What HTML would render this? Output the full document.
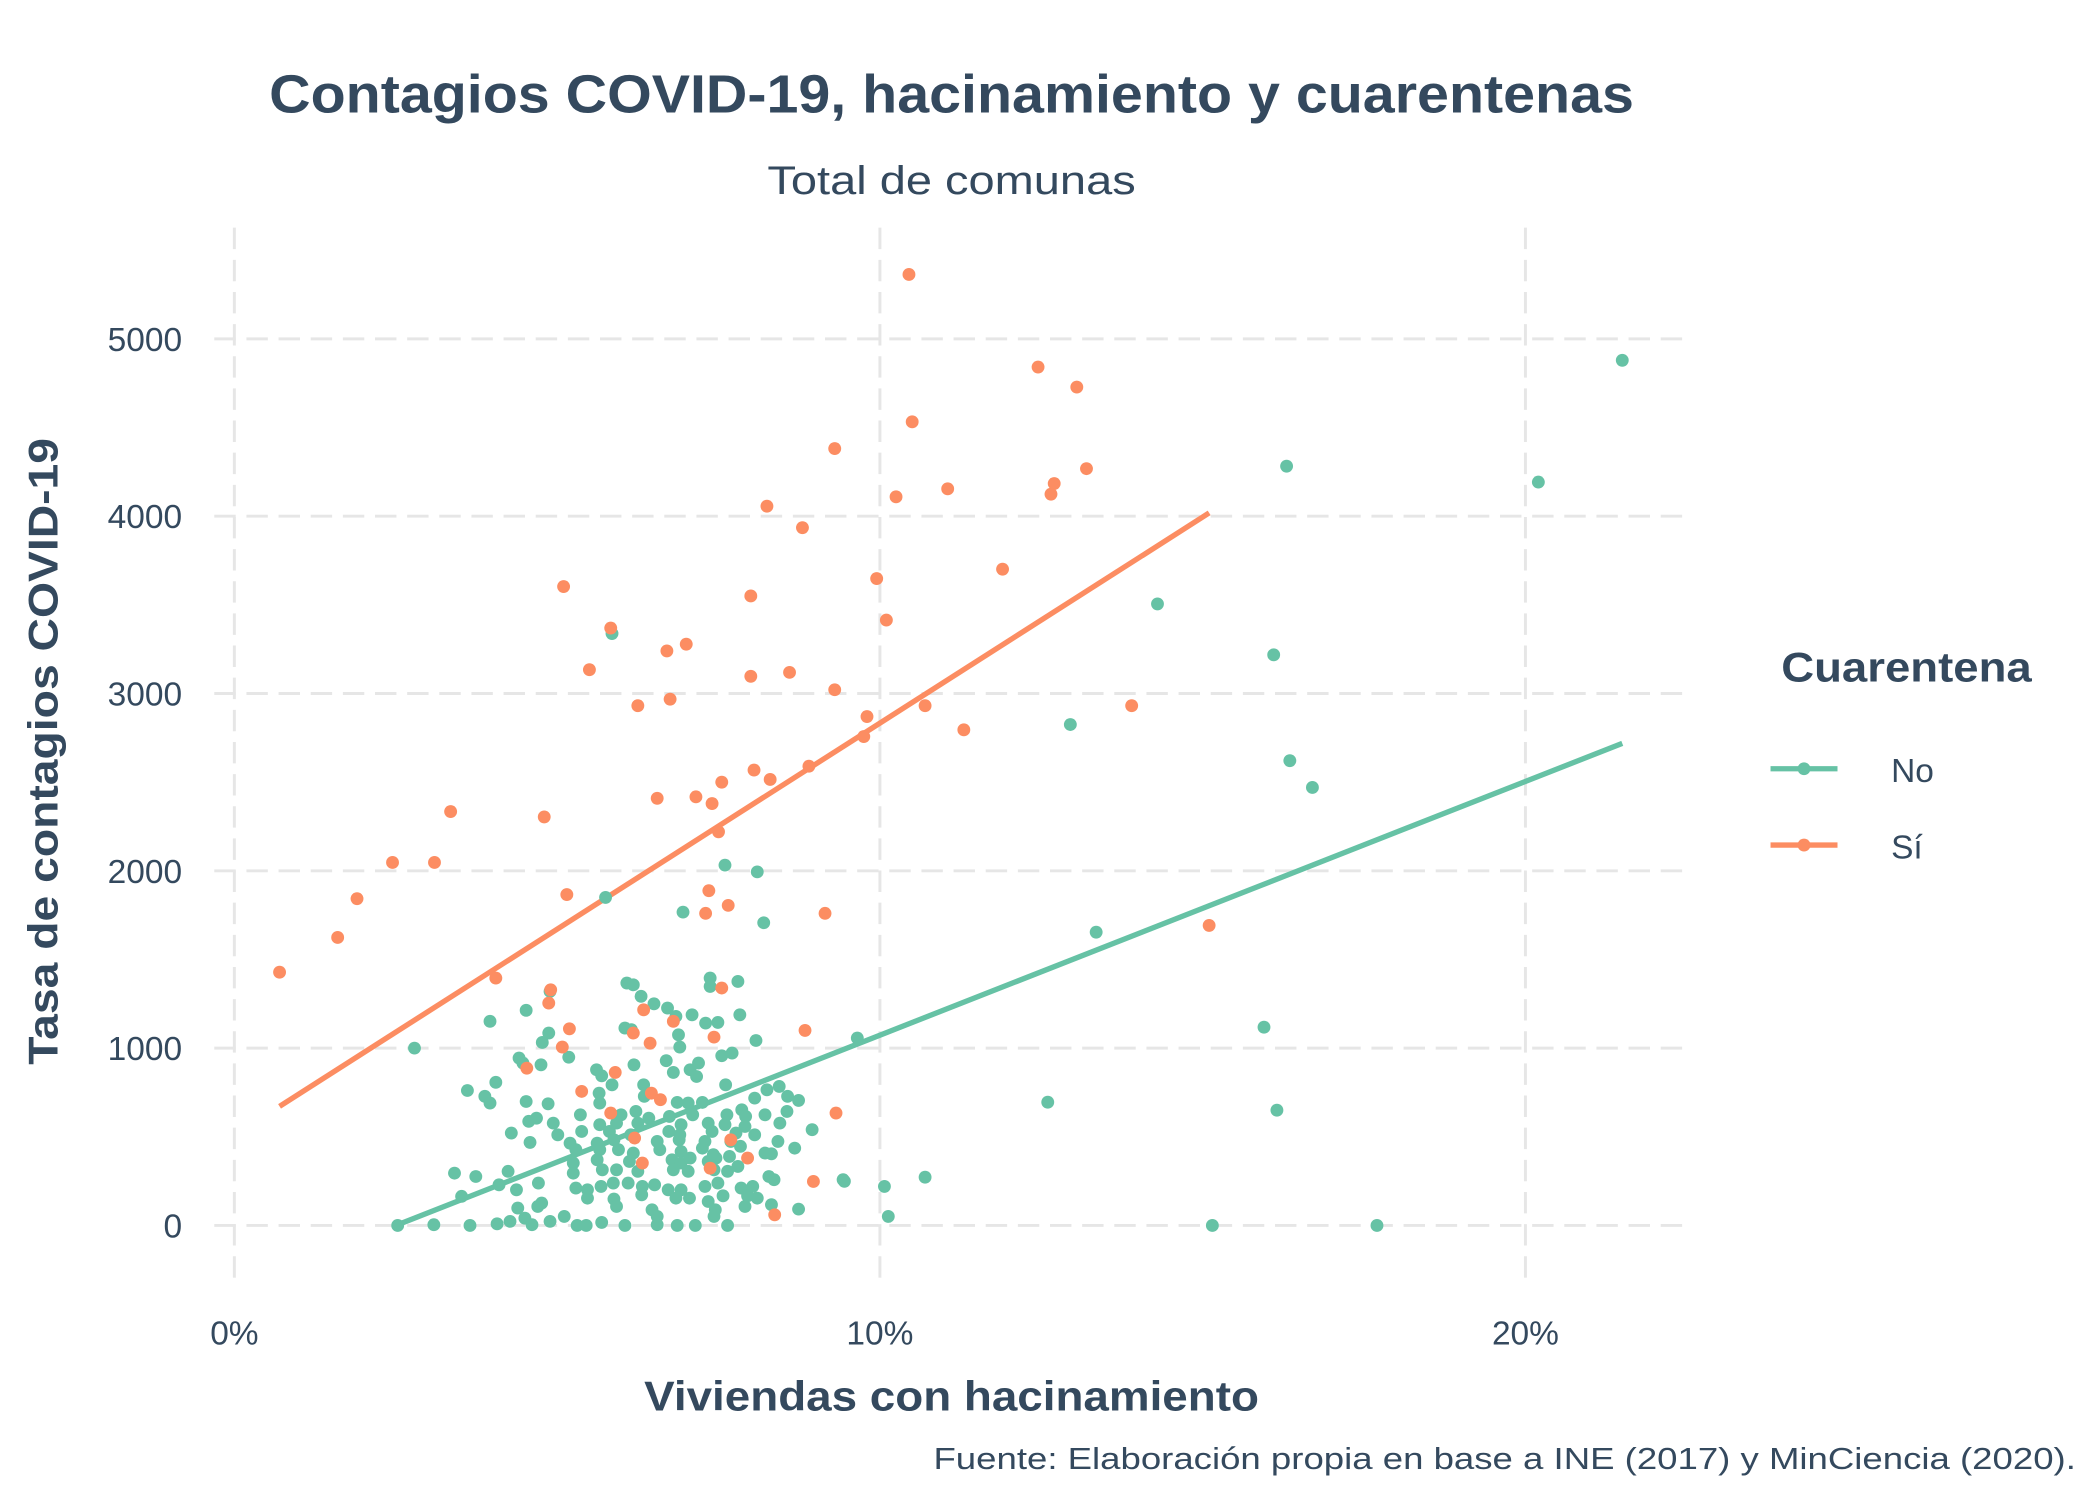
<!DOCTYPE html>
<html><head><meta charset="utf-8"><style>
html,body{margin:0;padding:0;background:#fff;}
svg{display:block;font-family:"Liberation Sans",sans-serif;}
</style></head><body>
<svg id="chart" width="2100" height="1500" viewBox="0 0 1568 1120" xmlns="http://www.w3.org/2000/svg">
<rect width="1568" height="1120" fill="#fff"/>
<g id="grid"></g>
<g id="lines"></g>
<g id="points"></g>
<g id="axes"></g>
<text x="201" y="84" textLength="1019" lengthAdjust="spacingAndGlyphs" font-size="40" font-weight="bold" fill="#34495e">Contagios COVID-19, hacinamiento y cuarentenas</text>
<text x="573" y="145" textLength="275" lengthAdjust="spacingAndGlyphs" font-size="30" fill="#34495e">Total de comunas</text>
<text x="481" y="1053" textLength="459" lengthAdjust="spacingAndGlyphs" font-size="31" font-weight="bold" fill="#34495e">Viviendas con hacinamiento</text>
<text transform="translate(43,795) rotate(-90)" textLength="468" lengthAdjust="spacingAndGlyphs" font-size="31" font-weight="bold" fill="#34495e">Tasa de contagios COVID-19</text>
<text x="697" y="1097" textLength="853" lengthAdjust="spacingAndGlyphs" font-size="23" fill="#34495e">Fuente: Elaboración propia en base a INE (2017) y MinCiencia (2020).</text>
<g>
<text x="1330" y="509" textLength="187" lengthAdjust="spacingAndGlyphs" font-size="31" font-weight="bold" fill="#34495e">Cuarentena</text>
<g>
<line x1="1322" y1="574" x2="1372" y2="574" stroke="#66c2a5" stroke-width="4"/>
<circle cx="1347" cy="574" r="4.8" fill="#66c2a5"/>
<text x="1412" y="584" font-size="25" fill="#34495e">No</text></g>
<g>
<line x1="1322" y1="631" x2="1372" y2="631" stroke="#fc8d62" stroke-width="4"/>
<circle cx="1347" cy="631" r="4.8" fill="#fc8d62"/>
<text x="1412" y="641" font-size="25" fill="#34495e">Sí</text></g>
</g>
</svg>
<script>
const xTicks=[0,10,20];
const xTickLabels=["0%","10%","20%"];
const yTicks=[0,1000,2000,3000,4000,5000];
const yTickLabels=["0","1000","2000","3000","4000","5000"];
const noX=[6.08,6.18,7.37,7.37,7.80,4.89,6.30,6.50,4.52,6.71,6.84,7.09,7.30,7.49,7.83,3.96,6.05,6.15,4.87,4.77,6.88,6.90,8.08,9.65,2.79,5.18,4.41,4.47,4.75,6.19,6.69,6.80,7.06,7.19,7.16,7.55,7.71,5.61,5.69,4.05,3.61,3.88,3.96,5.85,5.65,5.66,6.34,6.35,7.61,4.52,4.86,6.86,7.03,7.25,7.86,8.06,8.25,8.44,8.57,8.74,5.36,5.99,6.22,6.42,6.74,7.10,7.63,7.92,8.22,8.56,4.56,4.68,4.94,5.66,5.92,6.25,6.92,7.34,7.60,7.91,8.45,4.29,5.01,5.38,5.81,6.14,6.73,6.90,7.40,7.77,8.06,8.95,4.58,5.20,5.62,5.88,6.55,6.89,7.29,7.69,7.84,8.42,8.68,5.29,5.66,5.95,6.18,6.59,6.92,7.25,7.42,8.22,8.32,5.25,5.62,6.12,6.78,6.92,7.06,7.34,7.46,7.80,7.67,3.41,3.74,4.24,5.25,5.70,5.92,6.25,6.80,7.03,7.43,7.64,8.28,8.36,9.43,4.10,4.71,5.29,5.47,5.68,5.87,6.10,6.32,6.51,6.72,6.92,7.29,7.49,7.85,8.03,10.07,3.52,4.37,5.47,5.88,6.31,6.84,7.05,7.34,7.57,7.95,8.10,4.39,4.76,4.70,5.92,6.47,7.91,8.32,8.74,7.45,10.13,2.53,3.09,3.65,4.07,4.27,4.50,4.61,4.89,5.11,5.31,5.45,5.69,6.05,6.55,6.86,7.14,7.64,6.55,7.43,
5.85,5.75,6.95,7.6,8.1,8.2,9.45,10.7,12.6,12.95,13.35,14.3,15.15,15.95,16.1,16.15,16.3,16.35,16.7,17.7,20.2,21.5];
const noY=[1367,1357,1395,1348,1376,1320,1292,1250,1213,1226,1179,1188,1141,1145,1188,1151,1113,1104,1085,1032,1075,1006,1043,1057,1000,949,944,916,906,906,929,863,878,916,840,957,972,878,844,807,761,728,690,793,746,690,793,728,793,699,686,694,690,694,652,718,765,784,728,705,624,624,643,605,615,624,624,615,624,643,587,605,577,568,577,577,568,577,568,558,577,521,511,530,530,511,530,511,530,521,511,540,468,464,464,483,474,483,474,474,446,474,436,427,427,427,408,427,417,436,399,408,404,352,370,361,370,352,380,361,380,333,389,295,276,305,295,314,314,305,314,305,314,305,276,258,258,229,239,211,201,220,239,239,220,229,201,201,220,239,211,220,220,164,201,154,149,173,154,154,135,167,167,154,98,126,107,107,88,107,117,92,88,51,0,4,0,9,23,41,4,23,51,0,0,17,0,4,0,0,0,51,51,
3338,1850,1767,2032,1994,1707,249,272,695,2825,1654,3505,0,1118,3218,650,4282,2621,2470,0,4192,4879];
const siX=[4.05,4.90,4.87,5.19,5.08,4.53,6.18,6.34,6.44,6.80,7.55,7.43,8.84,5.90,5.38,6.46,6.60,5.83,6.20,7.69,7.95,6.32,7.37,9.32,8.97,8.37,
0.7,1.6,1.9,2.45,3.1,3.35,4.8,5.1,5.15,5.5,5.83,6.25,6.55,6.7,6.75,7.0,7.15,7.35,7.3,7.4,7.5,7.55,7.65,8.0,8.0,8.05,8.25,8.3,8.6,8.8,8.9,9.15,9.3,9.3,9.8,9.75,9.95,10.1,10.25,10.45,10.5,10.7,11.05,11.3,11.9,12.45,12.65,12.7,13.05,13.2,13.9,15.1];
const siY=[1395,1329,1254,1109,1006,887,1085,1216,1028,1151,1339,1062,1100,863,756,746,709,634,493,483,380,352,323,634,248,60,
1428,1624,1843,2047,2047,2334,2304,3603,1866,3134,3369,2931,2409,3240,2968,3278,2417,1888,1760,2379,2220,2500,1805,3550,3097,2568,4056,2515,3119,3935,2590,1760,4381,3021,2870,2757,3648,3414,4109,5363,4532,2931,4154,2795,3701,4841,4124,4184,4728,4268,2931,1692];
const lineNames=["no","si"];
const lineXStart=[2.5,0.7];
const lineXEnd=[21.5,15.1];
const lineIntercept=[-358,509];
const lineSlope=[143.1,232.4];
const lineColors=["#66c2a5","#fc8d62"];

const NS="http://www.w3.org/2000/svg";
const sx=p=>175+p*48.2;
const sy=v=>915-v*0.1324;
function mk(tag,attrs,parent){const e=document.createElementNS(NS,tag);for(const k in attrs)e.setAttribute(k,attrs[k]);parent.appendChild(e);return e;}
const grid=document.getElementById('grid'),axes=document.getElementById('axes');
yTicks.forEach((t,i)=>{
  const l=mk('line',{x1:160,x2:1257,y1:sy(t),y2:sy(t),stroke:'#e6e6e6','stroke-width':2.2,'stroke-dasharray':'16,8'},grid);
  
  
  const tx=mk('text',{x:136,y:sy(t)+9,'text-anchor':'end','font-size':25,fill:'#34495e'},axes);
  tx.textContent=yTickLabels[i];
  
  
});
xTicks.forEach((t,i)=>{
  const l=mk('line',{x1:sx(t),x2:sx(t),y1:170,y2:955,stroke:'#e6e6e6','stroke-width':2.2,'stroke-dasharray':'16,8'},grid);
  
  
  const tx=mk('text',{x:sx(t),y:1004,'text-anchor':'middle','font-size':25,fill:'#34495e'},axes);
  tx.textContent=xTickLabels[i];
  
  
});
const pts=document.getElementById('points');
function drawPts(xs,ys,color,name){
  xs.forEach((x,i)=>{
    const c=mk('circle',{cx:sx(x),cy:sy(ys[i]),r:4.8,fill:color},pts);
    
    
  });
}
drawPts(noX,noY,'#66c2a5','point-no');
drawPts(siX,siY,'#fc8d62','point-si');
const lg=document.getElementById('lines');
lineNames.forEach((n,i)=>{
  const x0=lineXStart[i],x1=lineXEnd[i];
  const l=mk('line',{x1:sx(x0),y1:sy(lineIntercept[i]+lineSlope[i]*x0),x2:sx(x1),y2:sy(lineIntercept[i]+lineSlope[i]*x1),stroke:lineColors[i],'stroke-width':4},lg);
  
  
});
</script>
</body></html>
